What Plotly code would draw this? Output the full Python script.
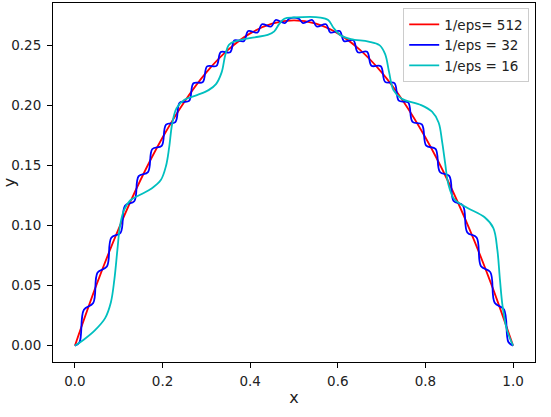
import plotly.graph_objects as go

# Red curve (1/eps = 512)
red_x = [0.0, 0.05, 0.1, 0.15, 0.2, 0.25, 0.3, 0.35, 0.4, 0.45, 0.5,
         0.55, 0.6, 0.65, 0.7, 0.75, 0.8, 0.85, 0.9, 0.95, 1.0]
red_y = [0.0, 0.0515, 0.0976, 0.1383, 0.1735, 0.2034, 0.2278, 0.2467, 0.2603, 0.2684, 0.2711,
         0.2684, 0.2603, 0.2467, 0.2278, 0.2034, 0.1735, 0.1383, 0.0976, 0.0515, 0.0]

# Blue curve (1/eps = 32)
blue_x = [0.0,
          0.0105, 0.0205, 0.04175, 0.05175, 0.073, 0.083, 0.10425, 0.11425,
          0.1355, 0.1455, 0.16675, 0.17675, 0.198, 0.208, 0.22925, 0.23925,
          0.2605, 0.2705, 0.29175, 0.30175, 0.323, 0.333, 0.35425, 0.36425,
          0.3855, 0.3955, 0.41675, 0.42675, 0.448, 0.458, 0.47925, 0.48925,
          0.5105, 0.5205, 0.54175, 0.55175, 0.573, 0.583, 0.60425, 0.61425,
          0.6355, 0.6455, 0.66675, 0.67675, 0.698, 0.708, 0.72925, 0.73925,
          0.7605, 0.7705, 0.79175, 0.80175, 0.823, 0.833, 0.85425, 0.86425,
          0.8855, 0.8955, 0.91675, 0.92675, 0.948, 0.958, 0.97925, 0.98925,
          1.0]
blue_y = [0.0,
          0.0029, 0.0300, 0.0355, 0.0610, 0.0659, 0.0899, 0.0942, 0.1166,
          0.1204, 0.1413, 0.1446, 0.1639, 0.1665, 0.1843, 0.1863, 0.2025,
          0.2040, 0.2187, 0.2197, 0.2328, 0.2332, 0.2448, 0.2446, 0.2545,
          0.2538, 0.2623, 0.2610, 0.2679, 0.2660, 0.2714, 0.2689, 0.2726,
          0.2726, 0.2689, 0.2714, 0.2660, 0.2679, 0.2610, 0.2623, 0.2538,
          0.2546, 0.2446, 0.2449, 0.2333, 0.2329, 0.2199, 0.2188, 0.2042,
          0.2027, 0.1865, 0.1845, 0.1667, 0.1640, 0.1448, 0.1415, 0.1206,
          0.1168, 0.0944, 0.0902, 0.0662, 0.0613, 0.0358, 0.0302, 0.0031,
          0.0]

# Cyan curve (1/eps = 16)
cyan_x = [0.0, 0.02, 0.046, 0.069, 0.082, 0.09, 0.097, 0.103, 0.112, 0.126,
          0.15, 0.175, 0.196, 0.208, 0.215, 0.222, 0.232, 0.25, 0.28, 0.305,
          0.322, 0.335, 0.343, 0.352, 0.37, 0.41, 0.44, 0.455, 0.466, 0.478,
          0.5, 0.56, 0.578, 0.59, 0.605, 0.63, 0.67, 0.695, 0.708, 0.717,
          0.727, 0.745, 0.79, 0.815, 0.83, 0.838, 0.845, 0.852, 0.866, 0.895,
          0.935, 0.955, 0.964, 0.97, 0.976, 0.986, 1.0]
cyan_y = [0.0, 0.005, 0.013, 0.023, 0.036, 0.055, 0.08, 0.1, 0.113, 0.121,
          0.126, 0.131, 0.138, 0.15, 0.165, 0.185, 0.198, 0.205, 0.209, 0.213,
          0.218, 0.228, 0.242, 0.251, 0.254, 0.257, 0.259, 0.262, 0.268, 0.2725,
          0.2735, 0.2735, 0.2715, 0.265, 0.259, 0.2555, 0.2535, 0.2505, 0.243, 0.228,
          0.213, 0.206, 0.2005, 0.195, 0.186, 0.17, 0.152, 0.135, 0.122, 0.115,
          0.107, 0.098, 0.08, 0.055, 0.033, 0.013, 0.0]

x_ticks = [0.0, 0.2, 0.4, 0.6, 0.8, 1.0]
y_ticks = [0.0, 0.05, 0.10, 0.15, 0.20, 0.25]

fig = go.Figure()
fig.add_trace(go.Scatter(x=red_x, y=red_y, mode="lines", name="1/eps= 512",
                         line=dict(color="#ff0000", width=1.8, shape="spline")))
fig.add_trace(go.Scatter(x=blue_x, y=blue_y, mode="lines", name="1/eps = 32",
                         line=dict(color="#0000ff", width=1.8, shape="spline")))
fig.add_trace(go.Scatter(x=cyan_x, y=cyan_y, mode="lines", name="1/eps = 16",
                         line=dict(color="#00bfbf", width=1.8, shape="spline")))

font = dict(family="DejaVu Sans", size=13.5, color="#222222")
fig.update_layout(
    width=551, height=417,
    margin=dict(l=53, r=16, t=3, b=55),
    paper_bgcolor="white", plot_bgcolor="white",
    font=font,
    showlegend=True,
    legend=dict(x=0.988, y=0.986, xanchor="right", yanchor="top",
                bgcolor="rgba(255,255,255,0.8)", bordercolor="#cccccc",
                borderwidth=1, font=font, tracegroupgap=0),
    xaxis=dict(range=[-0.05, 1.05], tickvals=x_ticks,
               ticktext=[f"{v:.1f}" for v in x_ticks],
               showgrid=False, zeroline=False, showline=True, mirror=True,
               linecolor="black", linewidth=1, ticks="outside", ticklen=5,
               tickcolor="black", ticklabelstandoff=2, automargin=False,
               title=dict(text="x", standoff=3)),
    yaxis=dict(range=[-0.0136, 0.2856], tickvals=y_ticks,
               ticktext=[f"{v:.2f}" for v in y_ticks],
               showgrid=False, zeroline=False, showline=True, mirror=True,
               linecolor="black", linewidth=1, ticks="outside", ticklen=5,
               tickcolor="black", ticklabelstandoff=3, automargin=False,
               title=dict(text="y", standoff=2)),
)
fig.write_html("out.html")
